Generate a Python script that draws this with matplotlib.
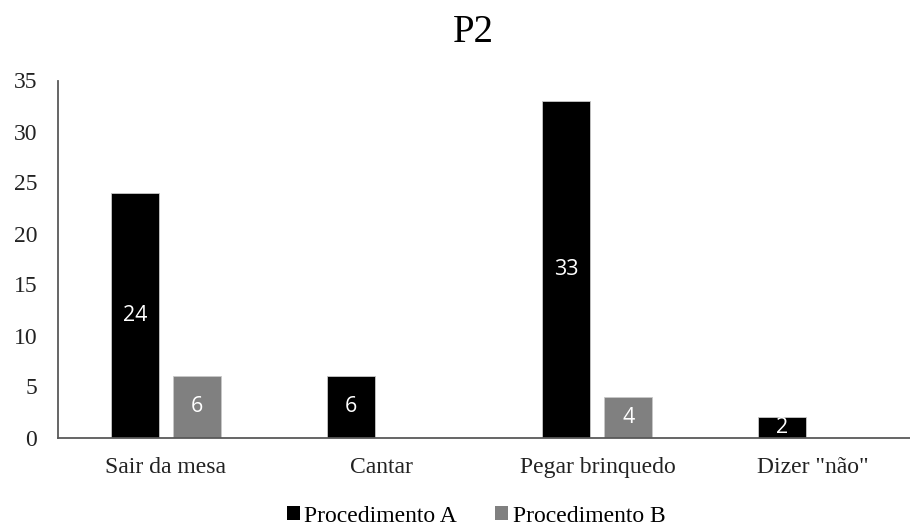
import numpy as np
import matplotlib
matplotlib.use("Agg")
import matplotlib.pyplot as plt
from matplotlib.patches import Patch

categories = ["Sair da mesa", "Cantar", "Pegar brinquedo", 'Dizer "não"']
proc_a = [24, 6, 33, 2]
proc_b = [6, np.nan, 4, np.nan]
series_names = ["Procedimento A", "Procedimento B"]
yticks = [0, 5, 10, 15, 20, 25, 30, 35]

W, H = 910, 526
fig = plt.figure(figsize=(W / 100, H / 100), dpi=100)
left, right = 58 / W, 921 / W
bottom, top = 1 - 437.5 / H, 1 - 80.5 / H
ax = fig.add_axes([left, bottom, right - left, top - bottom])

serif = "Liberation Serif"
x = np.arange(len(categories))
bw = 0.222
off = 0.144
ca, cb = "#000000", "#808080"
ba = ax.bar(x - off, proc_a, bw, color=ca, edgecolor="#c8c8c8", linewidth=0.6, zorder=2)
bb = ax.bar(x + off, proc_b, bw, color=cb, edgecolor="#c8c8c8", linewidth=0.6, zorder=2)

for bars, vals in ((ba, proc_a), (bb, proc_b)):
    for r, v in zip(bars, vals):
        if v is None or np.isnan(v) or v == 0:
            continue
        ax.text(r.get_x() + r.get_width() / 2, v / 2, f"{int(v)}", ha="center", va="center",
                color="white", fontsize=15.5, family="Open Sans", zorder=3)

ax.set_xlim(-0.5, 3.5)
ax.set_ylim(0, 35)
ax.set_yticks(yticks)
ax.set_yticklabels([str(t) for t in yticks], family=serif, fontsize=17)
ax.set_xticks(x)
ax.set_xticklabels(categories, family=serif, fontsize=17)
ax.tick_params(axis="y", length=0, pad=15, colors="#222222")
ax.tick_params(axis="x", length=0, pad=14, colors="#222222")
for s in ["top", "right"]:
    ax.spines[s].set_visible(False)
for s in ["left", "bottom"]:
    ax.spines[s].set_color("#595959")
    ax.spines[s].set_linewidth(1.3)

fig.text(473 / W, 1 - 33 / H, "P2", ha="center", va="center", family=serif, fontsize=28)

handles = [Patch(facecolor=ca), Patch(facecolor=cb)]
fig.legend(handles, series_names, loc="center", bbox_to_anchor=(476 / W, 1 - 516 / H),
           ncol=2, frameon=False, prop={"family": serif, "size": 17},
           handlelength=0.55, handleheight=0.55, handletextpad=0.2, columnspacing=1.6)

fig.savefig("out.png", dpi=100)
